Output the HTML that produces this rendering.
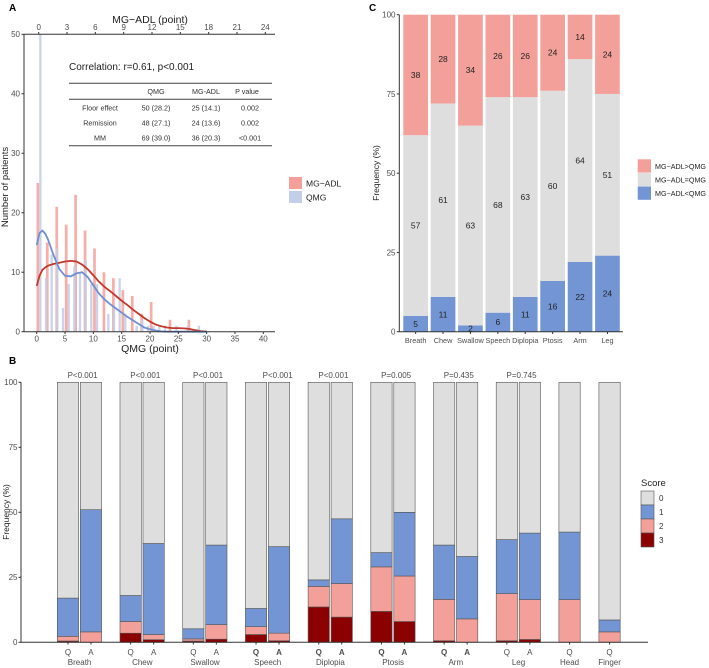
<!DOCTYPE html>
<html><head><meta charset="utf-8"><style>
html,body{margin:0;padding:0;background:#fff;}
svg{display:block;font-family:"Liberation Sans",Arial,sans-serif;}
</style></head><body>
<svg id="fig" width="709" height="668" viewBox="0 0 709 668">
<g id="A"></g>
<g id="B"></g>
<g id="C"></g>
</svg>
<script>
// ---------- Panel A data ----------
const adlCounts = [25,15,21,18,23,17,14,10,9,7,6,3,5,0,2,0,2];
const qmgCounts = [50,9,13,14,4,8,11,10,12,8,8,0,3,4,9,3,0,1,2,1,1,1,1,0,1,0,1,0,1];
const densX = [0,0.5,1,1.5,2,3,4,5,6,7,8,9,10,11,12,13,14,15,16,17,18,19,20,21,22,23,24,25,26,27,28,29,30];
const qmgDens = [14.6,16.6,17,16.5,15.5,12.8,10.5,9.4,9.3,9.8,10,9.2,7.8,6.4,5.4,4.6,3.9,3.2,2.5,1.9,1.3,0.7,0.4,0.2,0.05,0,0,0,0,0,0,0,0];
const adlDens = [7.7,9.4,10.4,10.8,11.1,11.4,11.6,11.8,11.9,11.8,11.3,10.5,9.5,8.4,7.5,6.8,6,5.2,4.5,3.7,3,2.3,1.7,1.2,0.9,0.7,0.6,0.6,0.55,0.45,0.25,0.1,0];
const aXTicks = [0,5,10,15,20,25,30,35,40];
const aTopTicks = [0,3,6,9,12,15,18,21,24];
const aYTicks = [0,10,20,30,40,50];
// ---------- Panel B data ----------
const bCats = ["Breath","Chew","Swallow","Speech","Diplopia","Ptosis","Arm","Leg","Head","Finger"];
const bPvals = ["P<0.001","P<0.001","P<0.001","P<0.001","P<0.001","P=0.005","P=0.435","P=0.745","",""];
// segment values [score3, score2, score1] per bar; score0 = remainder
const bQ3 = [0.5,3.5,0.5,3,13.6,11.9,0.6,0.6,0,0];
const bQ2 = [1.8,4.5,0.8,3,7.9,17.1,15.9,18.1,16.4,4];
const bQ1 = [14.7,10,3.9,7,2.5,5.5,20.9,20.8,26,4.6];
const bA3 = [0,1,1.2,0.6,9.7,8,0,1.1,null,null];
const bA2 = [4,2,5.6,2.9,12.9,17.5,9,15.3,null,null];
const bA1 = [47,35,30.6,33.3,24.9,24.5,24,25.6,null,null];
const bBold = [false,false,false,true,true,true,true,false,false,false];
const bYTicks = [0,25,50,75,100];
// ---------- Panel C data ----------
const cCats = ["Breath","Chew","Swallow","Speech","Diplopia","Ptosis","Arm","Leg"];
const cLess = [5,11,2,6,11,16,22,24];
const cEqual = [57,61,63,68,63,60,64,51];
const cGreater = [38,28,34,26,26,24,14,24];
const cYTicks = [0,25,50,75,100];

const NS="http://www.w3.org/2000/svg";
function mk(parent,tag,attrs,text){const e=document.createElementNS(NS,tag);for(const k in attrs)e.setAttribute(k,attrs[k]);if(text!==undefined)e.textContent=text;parent.appendChild(e);return e;}
const RED="#f4a09a",BLUE="#7495d3",GREY="#dedede",DARK="#8b0000",TXT="#4d4d4d";

// ================= Panel A =================
(function(){
const g=document.getElementById('A');
const xQ=q=>36.7+q*(263.3-36.7)/40;
const yA=v=>331.7-v*(331.7-34.3)/50;
let t=mk(g,'text',{x:9,y:11,'font-size':10,'font-weight':'bold',fill:'#000'},'A');

adlCounts.forEach((c,v)=>{if(!c)return;const r=mk(g,'rect',{x:xQ(v/0.6)-0.2,y:yA(c),width:2.7,height:yA(0)-yA(c),fill:RED,opacity:0.85});
});
qmgCounts.forEach((c,q)=>{if(!c)return;const r=mk(g,'rect',{x:xQ(q)+2.5,y:yA(c),width:2.3,height:yA(0)-yA(c),fill:'#c3cfe8',opacity:0.9});
});
function path(arr){return arr.map((v,i)=>(i?'L':'M')+xQ(densX[i]).toFixed(1)+','+yA(v).toFixed(1)).join(' ');}
let p=mk(g,'path',{d:path(adlDens),fill:'none',stroke:'#c0392b',"stroke-width":1.8});

p=mk(g,'path',{d:path(qmgDens),fill:'none',stroke:'#6f8fd0',"stroke-width":1.8});

mk(g,'line',{x1:24,y1:34.3,x2:24,y2:331.7,stroke:'#333','stroke-width':1});
mk(g,'line',{x1:24,y1:331.7,x2:275,y2:331.7,stroke:'#333','stroke-width':1});
mk(g,'line',{x1:24,y1:34.3,x2:275,y2:34.3,stroke:'#333','stroke-width':1});
aYTicks.forEach(v=>{mk(g,'line',{x1:21.5,x2:24,y1:yA(v),y2:yA(v),stroke:'#333'});
const e=mk(g,'text',{x:20,y:yA(v)+2.8,'font-size':8,fill:TXT,'text-anchor':'end'},v);});
aXTicks.forEach(v=>{mk(g,'line',{x1:xQ(v),x2:xQ(v),y1:331.7,y2:334,stroke:'#333'});
const e=mk(g,'text',{x:xQ(v),y:341.5,'font-size':8,fill:TXT,'text-anchor':'middle'},v);});
aTopTicks.forEach(v=>{const x=xQ(v/0.6)+2;mk(g,'line',{x1:x,x2:x,y1:32,y2:34.3,stroke:'#333'});
const e=mk(g,'text',{x:x,y:30,'font-size':8,fill:TXT,'text-anchor':'middle'},v);});
t=mk(g,'text',{x:150,y:23,'font-size':10.5,fill:'#222','text-anchor':'middle'},'MG\u2212ADL (point)');
t=mk(g,'text',{x:150,y:352,'font-size':10.5,fill:'#222','text-anchor':'middle'},'QMG (point)');
t=mk(g,'text',{x:0,y:0,'font-size':9.5,fill:'#222','text-anchor':'middle',transform:'translate(8,187) rotate(-90)'},'Number of patients');
t=mk(g,'text',{x:69,y:70,'font-size':10,fill:'#222'},'Correlation: r=0.61, p<0.001');
[83.3,99.3,145.7].forEach(y=>mk(g,'line',{x1:69,x2:272,y1:y,y2:y,stroke:'#444','stroke-width':1}));
const heads=[['QMG',156],['MG-ADL',206],['P value',247]];
heads.forEach(h=>{const e=mk(g,'text',{x:h[1],y:94,'font-size':7.2,fill:'#333','text-anchor':'middle'},h[0]);});
const rows=[['Floor effect','50 (28.2)','25 (14.1)','0.002'],['Remission','48 (27.1)','24 (13.6)','0.002'],['MM','69 (39.0)','36 (20.3)','<0.001']];
const cx=[100,156,206,250];
rows.forEach((r,i)=>r.forEach((c,j)=>{const e=mk(g,'text',{x:cx[j],y:110.5+15*i,'font-size':7.2,fill:'#333','text-anchor':'middle'},c);}));
let r=mk(g,'rect',{x:289,y:177,width:13,height:12,fill:RED});
r=mk(g,'rect',{x:289,y:191,width:13,height:12,fill:'#c3cfe8'});
t=mk(g,'text',{x:306,y:186.5,'font-size':8.5,fill:'#222'},'MG\u2212ADL');
t=mk(g,'text',{x:306,y:200.5,'font-size':8.5,fill:'#222'},'QMG');
})();

// ================= Panel B =================
(function(){
const g=document.getElementById('B');
const y=v=>642.3-v*(642.3-382.3)/100;
const W=21.3;
const xQ=i=>i<9?57.3+62.7*i:57.3+62.7*8+40;
const xA=i=>xQ(i)+23;
let t=mk(g,'text',{x:9,y:364,'font-size':10,'font-weight':'bold',fill:'#000'},'B');

function bar(x,s3,s2,s1,name){
  let base=0;const segs=[[s3,DARK],[s2,RED],[s1,BLUE],[100-s3-s2-s1,GREY]];
  segs.forEach(s=>{if(s[0]<=0)return;const r=mk(g,'rect',{x:x,y:y(base+s[0]),width:W,height:y(base)-y(base+s[0]),fill:s[1],stroke:'#555','stroke-width':0.6});
  base+=s[0];});
}
bCats.forEach((c,i)=>{
  bar(xQ(i),bQ3[i],bQ2[i],bQ1[i],c.toLowerCase()+'-qmg');
  let e=mk(g,'text',{x:xQ(i)+W/2,y:655,'font-size':8,fill:TXT,'text-anchor':'middle','font-weight':bBold[i]?'bold':'normal'},'Q');
  
  mk(g,'line',{x1:xQ(i)+W/2,x2:xQ(i)+W/2,y1:642.3,y2:644.5,stroke:'#333'});
  let cxn=xQ(i)+W/2;
  if(bA1[i]!==null){
    bar(xA(i),bA3[i],bA2[i],bA1[i],c.toLowerCase()+'-adl');
    e=mk(g,'text',{x:xA(i)+W/2,y:655,'font-size':8,fill:TXT,'text-anchor':'middle','font-weight':bBold[i]?'bold':'normal'},'A');
    
    mk(g,'line',{x1:xA(i)+W/2,x2:xA(i)+W/2,y1:642.3,y2:644.5,stroke:'#333'});
    cxn=xQ(i)+W+1;
  }
  e=mk(g,'text',{x:cxn,y:665,'font-size':8,fill:TXT,'text-anchor':'middle'},c);
  
  if(bPvals[i]){e=mk(g,'text',{x:xQ(i)+W+4+(i===3?7:0),y:378,'font-size':8,fill:TXT,'text-anchor':'middle'},bPvals[i]);
  }
});
mk(g,'line',{x1:21,y1:382.3,x2:21,y2:642.3,stroke:'#333'});
mk(g,'line',{x1:21,y1:642.3,x2:648,y2:642.3,stroke:'#333'});
bYTicks.forEach(v=>{mk(g,'line',{x1:18.5,x2:21,y1:y(v),y2:y(v),stroke:'#333'});
const e=mk(g,'text',{x:17.5,y:y(v)+2.8,'font-size':8,fill:TXT,'text-anchor':'end'},v);});
t=mk(g,'text',{x:0,y:0,'font-size':8.5,fill:'#222','text-anchor':'middle',transform:'translate(9,512) rotate(-90)'},'Frequency (%)');
t=mk(g,'text',{x:641,y:486,'font-size':9.5,fill:'#222'},'Score');
[[GREY,'0'],[BLUE,'1'],[RED,'2'],[DARK,'3']].forEach((k,i)=>{
 const r=mk(g,'rect',{x:641,y:491+14*i,width:13,height:14,fill:k[0],stroke:'#555','stroke-width':0.6});
 const e=mk(g,'text',{x:659,y:501+14*i,'font-size':8,fill:'#333'},k[1]);});
})();

// ================= Panel C =================
(function(){
const g=document.getElementById('C');
const y=v=>331.7-v*(331.7-14.7)/100;
const x=i=>403.3+27.4*i;const W=24.7;
let t=mk(g,'text',{x:369,y:11,'font-size':10,'font-weight':'bold',fill:'#000'},'C');

cCats.forEach((c,i)=>{
  const segs=[[cLess[i],BLUE,'less'],[cEqual[i],GREY,'equal'],[100-cLess[i]-cEqual[i],RED,'greater']];
  const labels=[cLess[i],cEqual[i],cGreater[i]];
  let base=0;
  segs.forEach((s,j)=>{const r=mk(g,'rect',{x:x(i),y:y(base+s[0]),width:W,height:y(base)-y(base+s[0]),fill:s[1]});
  
  const e=mk(g,'text',{x:x(i)+W/2,y:y(base+s[0]/2)+3,'font-size':8.5,fill:'#222','text-anchor':'middle'},labels[j]);
  base+=s[0];});
  mk(g,'line',{x1:x(i)+W/2,x2:x(i)+W/2,y1:331.7,y2:334,stroke:'#333'});
  const e=mk(g,'text',{x:x(i)+W/2,y:343,'font-size':7.3,fill:TXT,'text-anchor':'middle'},c);
  
});
mk(g,'line',{x1:399.3,y1:14.7,x2:399.3,y2:331.7,stroke:'#333'});
mk(g,'line',{x1:399.3,y1:331.7,x2:623,y2:331.7,stroke:'#333'});
cYTicks.forEach(v=>{mk(g,'line',{x1:396.8,x2:399.3,y1:y(v),y2:y(v),stroke:'#333'});
const e=mk(g,'text',{x:395.5,y:y(v)+2.8,'font-size':8,fill:TXT,'text-anchor':'end'},v);});
t=mk(g,'text',{x:0,y:0,'font-size':8.5,fill:'#222','text-anchor':'middle',transform:'translate(379,173) rotate(-90)'},'Frequency (%)');
[[RED,'MG\u2212ADL>QMG'],[GREY,'MG\u2212ADL=QMG'],[BLUE,'MG\u2212ADL<QMG']].forEach((k,i)=>{
 const r=mk(g,'rect',{x:637.7,y:159.3+13.6*i,width:13.3,height:13.3,fill:k[0]});
 const e=mk(g,'text',{x:655,y:169+13.6*i,'font-size':7,fill:'#222',textLength:51,lengthAdjust:'spacingAndGlyphs'},k[1]);});
})();
</script>
</body></html>
